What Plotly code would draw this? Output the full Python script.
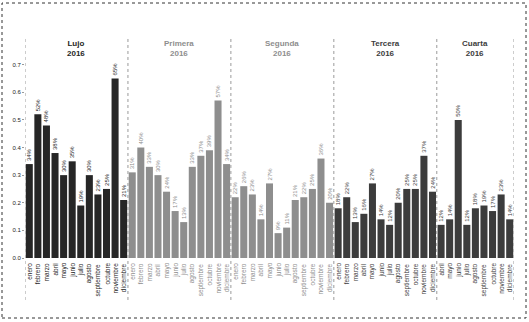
import plotly.graph_objects as go

groups = ["Lujo", "Primera", "Segunda", "Tercera", "Cuarta"]
year = "2016"
months_full = ["enero", "febrero", "marzo", "abril", "mayo", "junio", "julio",
               "agosto", "septiembre", "octubre", "noviembre", "diciembre"]
months_cuarta = ["abril", "mayo", "junio", "julio", "agosto", "septiembre",
                 "octubre", "noviembre", "diciembre"]

lujo = [0.34, 0.52, 0.48, 0.38, 0.30, 0.35, 0.19, 0.30, 0.23, 0.25, 0.65, 0.21]
primera = [0.31, 0.40, 0.33, 0.30, 0.24, 0.17, 0.13, 0.33, 0.37, 0.39, 0.57, 0.34]
segunda = [0.22, 0.26, 0.23, 0.14, 0.27, 0.09, 0.11, 0.21, 0.22, 0.25, 0.36, 0.20]
tercera = [0.18, 0.22, 0.13, 0.16, 0.27, 0.14, 0.12, 0.20, 0.25, 0.25, 0.37, 0.24]
cuarta = [0.12, 0.14, 0.50, 0.12, 0.18, 0.19, 0.17, 0.23, 0.14]

y_ticks = [0.0, 0.1, 0.2, 0.3, 0.4, 0.5, 0.6, 0.7]

series = [
    (groups[0], months_full, lujo, "#262626"),
    (groups[1], months_full, primera, "#8e8e8e"),
    (groups[2], months_full, segunda, "#8e8e8e"),
    (groups[3], months_full, tercera, "#3c3c3c"),
    (groups[4], months_cuarta, cuarta, "#3c3c3c"),
]

FONT = "Liberation Sans, Arial, sans-serif"
fig = go.Figure()

bounds = [-0.5]
idx = 0
for name, months, vals, col in series:
    xs = list(range(idx, idx + len(vals)))
    fig.add_trace(go.Bar(
        x=xs, y=vals, marker=dict(color=col, line=dict(width=0)),
        text=[f"{round(v * 100)}%" for v in vals],
        textposition="outside", textangle=-90, constraintext="none",
        cliponaxis=False,
        textfont=dict(size=6, color=col, family=FONT),
        showlegend=False, name=name,
    ))
    for x, m in zip(xs, months):
        fig.add_annotation(x=x, xref="x", y=0, yref="paper", yshift=-3,
                           text=m, textangle=-90, showarrow=False,
                           xanchor="center", yanchor="top",
                           font=dict(size=6.5, color=col, family=FONT))
    center = (xs[0] + xs[-1]) / 2
    fig.add_annotation(x=center, xref="x", y=1.0, yref="paper",
                       text=f"<b>{name}</b><br><b>{year}</b>", showarrow=False,
                       yanchor="top", font=dict(size=8, color=col, family=FONT))
    idx += len(vals)
    bounds.append(idx - 0.5)

for b in bounds:
    fig.add_shape(type="line", xref="x", yref="paper", x0=b, x1=b, y0=-0.19, y1=1.0,
                  line=dict(color="#9a9a9a", width=1, dash="dot"))

# outer dotted frame
fig.add_shape(type="rect", xref="paper", yref="paper",
              x0=-23 / 489, x1=(526 - 25) / 489, y0=-(318 - 258) / 221, y1=(258 - 3) / 221,
              line=dict(color="#333333", width=1, dash="dot"))

fig.update_layout(
    width=529, height=322,
    margin=dict(l=25, r=15, t=37, b=64),
    paper_bgcolor="white", plot_bgcolor="white",
    bargap=0.18,
    font=dict(family=FONT, size=6, color="#222222"),
    xaxis=dict(range=[-0.5, idx - 0.5], showticklabels=False,
               showgrid=False, zeroline=False, showline=False, ticks=""),
    yaxis=dict(range=[0, 0.8], tickvals=y_ticks, ticktext=[f"{v:.1f}" for v in y_ticks],
               tickfont=dict(size=6, family=FONT, color="#222222"),
               showgrid=False, zeroline=False, showline=False,
               ticks="outside", ticklen=2, tickcolor="#9a9a9a"),
)

fig.write_html("out.html", config={"displayModeBar": False},
               post_script="document.body.style.margin='0';document.body.style.overflow='hidden';")
